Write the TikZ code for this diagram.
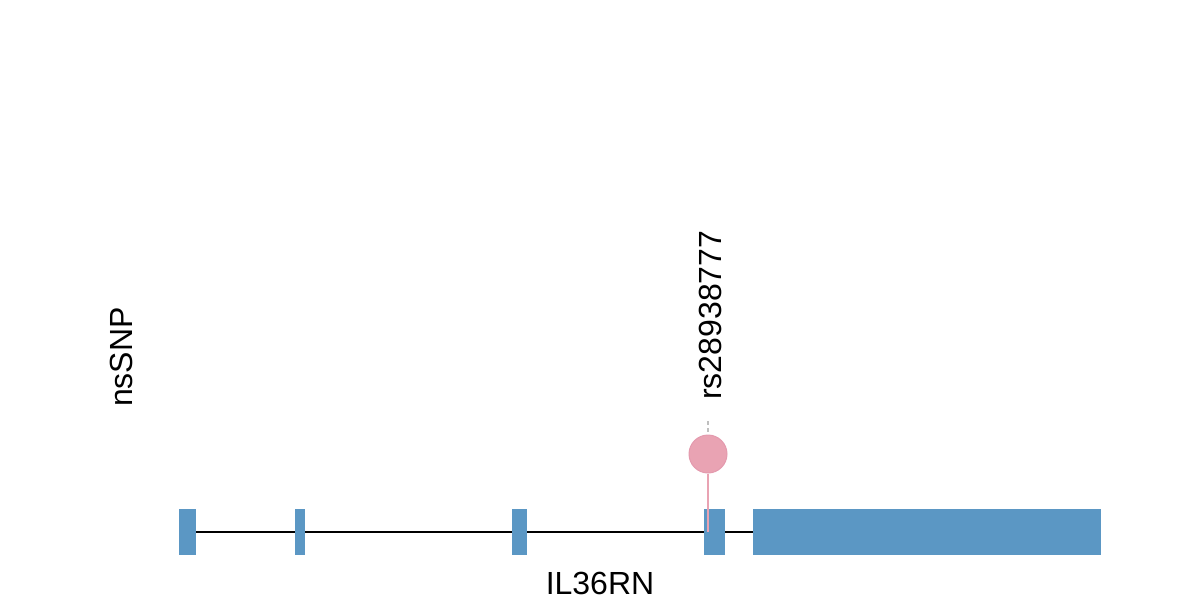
\documentclass[tikz,border=0pt]{standalone}
\usepackage{fontspec}
\setmainfont{Liberation Sans}
\definecolor{exonblue}{HTML}{5B97C4}
\definecolor{snppink}{HTML}{E9A3B3}
\definecolor{snpedge}{HTML}{E49AAE}
\begin{document}
\begin{tikzpicture}[x=1pt,y=-1pt,
  exon/.style={draw=none,fill=exonblue,inner sep=0,minimum height=46pt},
  lbl/.style={inner sep=0,font=\fontsize{32}{38}\selectfont},
  intron/.style={line width=2pt,black}]
\useasboundingbox (0,0) rectangle (1200,600);
\node[exon,minimum width=17pt,anchor=north west] (e1) at (179,509) {};
\node[exon,minimum width=10pt,anchor=north west] (e2) at (295,509) {};
\node[exon,minimum width=15pt,anchor=north west] (e3) at (512,509) {};
\node[exon,minimum width=21pt,anchor=north west] (e4) at (704,509) {};
\node[exon,minimum width=348pt,anchor=north west] (e5) at (753,509) {};
\draw[intron] (e1.east) -- (e2.west);
\draw[intron] (e2.east) -- (e3.west);
\draw[intron] (e3.east) -- (e4.west);
\draw[intron] (e4.east) -- (e5.west);
\node[circle,fill=snppink,draw=snpedge,line width=1pt,minimum size=38pt,inner sep=0] (snp) at (708,454) {};
\coordinate (stemend) at (708,532);
\draw[snppink,line width=2.5pt] (snp.south) -- (stemend);
\coordinate (dtop) at (708,421);
\draw[gray!50,line width=1.5pt,dash pattern=on 4pt off 3pt] (dtop) -- (snp.north);
\node[lbl,rotate=90,anchor=base west] (rs) at (721,400) {rs28938777};
\node[lbl,rotate=90,anchor=base west] (ns) at (132,407) {nsSNP};
\node[lbl,anchor=base] (gene) at (600,594) {IL36RN};
\end{tikzpicture}
\end{document}
